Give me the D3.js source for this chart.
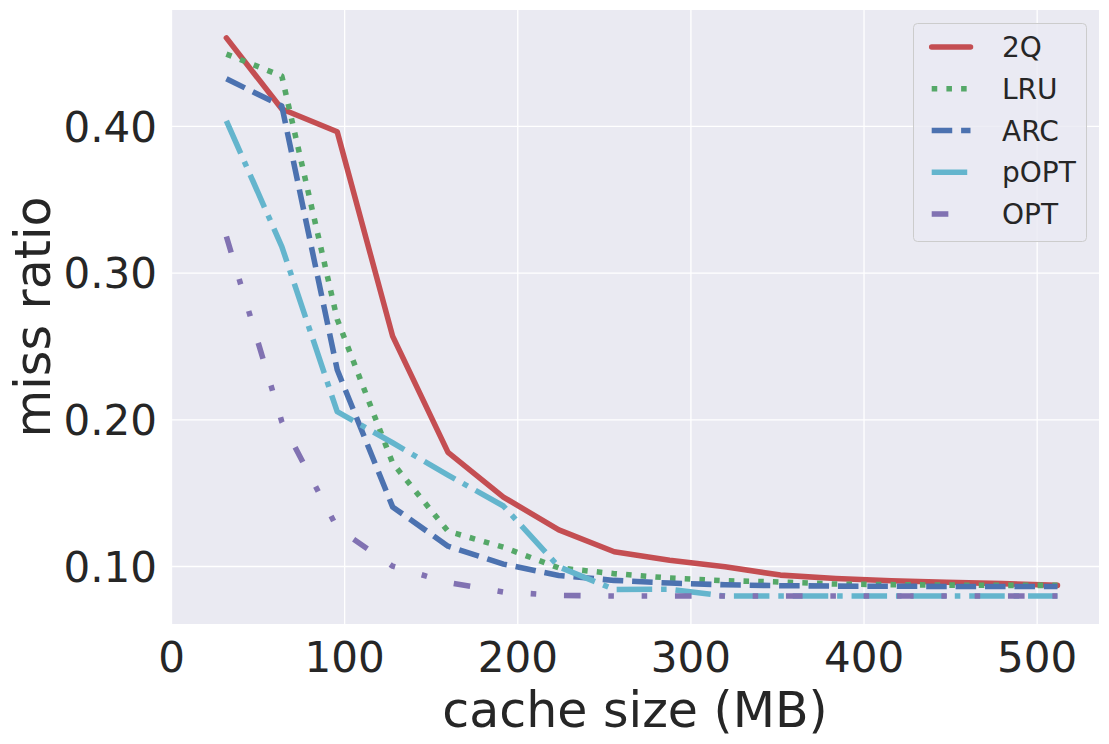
<!DOCTYPE html>
<html>
<head>
<meta charset="utf-8">
<script src="https://cdn.jsdelivr.net/npm/d3@7"></script>
<style>
  body { margin: 0; background: #fff; }
  svg { display: block; font-family: "DejaVu Sans", sans-serif; }
</style>
</head>
<body>
<div id="chart"></div>
<script>
const kWidth = 1109;
const kHeight = 744;
const kPlot = { left: 171, right: 1099, top: 10, bottom: 624 };
const kLineWidth = 5.55;

// cache sizes in MB
const cacheSizes = [32, 64, 96, 128, 160, 192, 224, 256, 288, 320, 352, 384, 416, 448, 480, 512];

const missQ2   = [0.460, 0.4115, 0.396, 0.2567, 0.1775, 0.147, 0.1246, 0.1097, 0.104, 0.0995, 0.0938, 0.0915, 0.0899, 0.0890, 0.0880, 0.0868];
const missLRU  = [0.449, 0.434, 0.2682, 0.1702, 0.1237, 0.1128, 0.0987, 0.0948, 0.0918, 0.0900, 0.0891, 0.0877, 0.0873, 0.0870, 0.0868, 0.0868];
const missARC  = [0.4321, 0.4136, 0.2338, 0.1403, 0.1135, 0.1013, 0.0936, 0.0902, 0.0884, 0.0872, 0.0866, 0.0863, 0.0862, 0.0861, 0.0861, 0.0861];
const missPOPT = [0.4034, 0.3178, 0.2052, 0.1840, 0.1620, 0.1409, 0.0995, 0.0840, 0.0842, 0.0795, 0.0795, 0.0795, 0.0795, 0.0795, 0.0795, 0.0795];
const missOPT  = [0.3246, 0.1984, 0.126, 0.0999, 0.0887, 0.0823, 0.0800, 0.0795, 0.0795, 0.0795, 0.0795, 0.0795, 0.0795, 0.0795, 0.0795, 0.0795];

const seriesNames = ["2Q", "LRU", "ARC", "pOPT", "OPT"];
const seriesValues = [missQ2, missLRU, missARC, missPOPT, missOPT];
const seriesColors = ["#C44E52", "#55A868", "#4C72B0", "#64B5CD", "#8172B2"];
// matplotlib dash patterns, in units of line width
const seriesDashes = [null, [1, 1.65], [3.7, 1.6], [6.4, 1.6, 1, 1.6], [3, 5, 1, 5, 1, 5]];

const xTicks = [0, 100, 200, 300, 400, 500];
const yTicks = [0.10, 0.20, 0.30, 0.40];

function createSvg()
{
  return d3.select("#chart")
    .append("svg")
    .attr("width", kWidth)
    .attr("height", kHeight);
}

function drawChart(svg)
{
  const allValues = seriesValues.flat();
  const yMin = d3.min(allValues);
  const yMax = d3.max(allValues);
  const yPad = (yMax - yMin) * 0.05;

  const xScale = d3.scaleLinear()
    .domain([0, 512 + 24])
    .range([kPlot.left, kPlot.right]);

  const yScale = d3.scaleLinear()
    .domain([yMin - yPad, yMax + yPad])
    .range([kPlot.bottom, kPlot.top]);

  svg.append("rect")
    .attr("x", kPlot.left)
    .attr("y", kPlot.top)
    .attr("width", kPlot.right - kPlot.left)
    .attr("height", kPlot.bottom - kPlot.top)
    .attr("fill", "#EAEAF2");

  // grid lines (ticks hidden, darkgrid style)
  const xAxis = d3.axisBottom(xScale)
    .tickValues(xTicks)
    .tickSize(-(kPlot.bottom - kPlot.top))
    .tickPadding(18)
    .tickFormat(d3.format("d"));

  const yAxis = d3.axisLeft(yScale)
    .tickValues(yTicks)
    .tickSize(-(kPlot.right - kPlot.left))
    .tickPadding(14)
    .tickFormat(d3.format(".2f"));

  const gx = svg.append("g")
    .attr("transform", `translate(0, ${kPlot.bottom})`)
    .call(xAxis);
  const gy = svg.append("g")
    .attr("transform", `translate(${kPlot.left}, 0)`)
    .call(yAxis);

  [gx, gy].forEach(g => {
    g.select(".domain").remove();
    g.selectAll(".tick line").attr("stroke", "#fff").attr("stroke-width", 1.3);
    g.selectAll(".tick text")
      .attr("fill", "#262626")
      .style("font-size", "42px")
      .style("font-family", "'DejaVu Sans', sans-serif");
  });
  gx.selectAll(".tick text").attr("dy", "0.72em");
  gy.selectAll(".tick text").attr("dy", "0.36em");

  const line = d3.line()
    .x((d, i) => xScale(cacheSizes[i]))
    .y(d => yScale(d));

  seriesValues.forEach((vals, k) => {
    const path = svg.append("path")
      .datum(vals)
      .attr("d", line)
      .attr("fill", "none")
      .attr("stroke", seriesColors[k])
      .attr("stroke-width", kLineWidth)
      .attr("stroke-linejoin", "round");
    if (seriesDashes[k]) {
      path.attr("stroke-dasharray", seriesDashes[k].map(v => v * kLineWidth).join(" "))
        .attr("stroke-linecap", "butt");
    } else {
      path.attr("stroke-linecap", "round");
    }
  });

  // axis labels
  svg.append("text")
    .attr("x", (kPlot.left + kPlot.right) / 2)
    .attr("y", 727)
    .attr("text-anchor", "middle")
    .attr("fill", "#262626")
    .style("font-size", "49px")
    .text("cache size (MB)");

  svg.append("text")
    .attr("transform", `translate(49.5, ${(kPlot.top + kPlot.bottom) / 2}) rotate(-90)`)
    .attr("text-anchor", "middle")
    .attr("fill", "#262626")
    .style("font-size", "49px")
    .text("miss ratio");

  // legend
  const legend = svg.append("g");
  legend.append("rect")
    .attr("x", 913.5)
    .attr("y", 23.5)
    .attr("width", 173)
    .attr("height", 218)
    .attr("rx", 4)
    .attr("fill", "#EAEAF2")
    .attr("fill-opacity", 0.8)
    .attr("stroke", "#cccccc")
    .attr("stroke-width", 1);

  seriesNames.forEach((name, k) => {
    const cy = 47 + k * 41.75;
    const h = legend.append("line")
      .attr("x1", 931.7)
      .attr("x2", 970.5)
      .attr("y1", cy)
      .attr("y2", cy)
      .attr("stroke", seriesColors[k])
      .attr("stroke-width", kLineWidth);
    if (seriesDashes[k]) {
      h.attr("stroke-dasharray", seriesDashes[k].map(v => v * kLineWidth).join(" "))
        .attr("stroke-linecap", "butt");
    } else {
      h.attr("stroke-linecap", "round");
    }
    legend.append("text")
      .attr("x", 1002)
      .attr("y", cy + 10)
      .attr("fill", "#262626")
      .style("font-size", "28px")
      .text(name);
  });
}

document.addEventListener("DOMContentLoaded", () => {
  const svg = createSvg();
  drawChart(svg);
});
</script>
</body>
</html>
